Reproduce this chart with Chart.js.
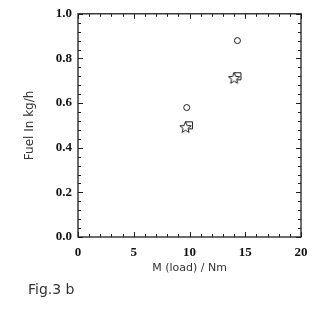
<!DOCTYPE html>
<html>
<head>
<meta charset="utf-8">
<script src="https://cdn.jsdelivr.net/npm/chart.js@4"></script>
<style>
  html, body { margin: 0; padding: 0; background: #fff; }
  #chart { display: block; }
</style>
</head>
<body>
<canvas id="chart" width="319" height="314"></canvas>
<script>
// values
const circleX = [9.75, 14.3];
const circleY = [0.58, 0.88];
const starX = [9.65, 14.0];
const starY = [0.49, 0.71];
const squareX = [9.95, 14.3];
const squareY = [0.50, 0.72];

const xTicks = [0, 5, 10, 15, 20];
const yTicks = [0.0, 0.2, 0.4, 0.6, 0.8, 1.0];
const xMinorStep = 1;
const yMinorStep = 0.04;

const ink = '#1e1e1e';

function toPoints(xs, ys) {
    return xs.map((x, i) => ({ x: x, y: ys[i] }));
}

// five pointed star as a point image
function makeStar(outer, inner) {
    const c = document.createElement('canvas');
    const s = Math.ceil(outer * 2 + 3);
    c.width = s;
    c.height = s;
    const g = c.getContext('2d');
    g.translate(s / 2, s / 2);
    g.beginPath();
    for (let i = 0; i < 10; i++) {
        const r = i % 2 === 0 ? outer : inner;
        const a = -Math.PI / 2 + i * Math.PI / 5;
        const px = r * Math.cos(a), py = r * Math.sin(a);
        if (i === 0) g.moveTo(px, py); else g.lineTo(px, py);
    }
    g.closePath();
    g.fillStyle = '#fff';
    g.fill();
    g.lineWidth = 1;
    g.strokeStyle = ink;
    g.stroke();
    return c;
}

// box frame + inward ticks on all four sides, plus the figure caption
const framePlugin = {
    id: 'frame',
    afterDraw(chart) {
        const ctx = chart.ctx;
        const a = chart.chartArea;
        const xs = chart.scales.x, ys = chart.scales.y;
        ctx.save();
        ctx.strokeStyle = ink;
        ctx.lineWidth = 1.3;
        ctx.strokeRect(a.left, a.top, a.right - a.left, a.bottom - a.top);

        ctx.lineWidth = 1;
        ctx.beginPath();
        for (let v = xs.min; v <= xs.max + 1e-9; v += xMinorStep) {
            const px = Math.round(xs.getPixelForValue(v)) + 0.5;
            const len = xTicks.includes(Math.round(v)) && Math.abs(v - Math.round(v)) < 1e-6 ? 5 : 3;
            ctx.moveTo(px, a.bottom); ctx.lineTo(px, a.bottom - len);
            ctx.moveTo(px, a.top); ctx.lineTo(px, a.top + len);
        }
        for (let i = 0; i * yMinorStep <= ys.max + 1e-9; i++) {
            const v = i * yMinorStep;
            const py = Math.round(ys.getPixelForValue(v)) + 0.5;
            const len = i % 5 === 0 ? 5 : 3;
            ctx.moveTo(a.left, py); ctx.lineTo(a.left + len, py);
            ctx.moveTo(a.right, py); ctx.lineTo(a.right - len, py);
        }
        ctx.stroke();

        ctx.fillStyle = '#333';
        ctx.font = "14px 'DejaVu Sans', sans-serif";
        ctx.textBaseline = 'middle';
        ctx.textAlign = 'left';
        ctx.fillText('Fig.3 b', 28, 290);
        ctx.restore();
    }
};

const tickFont = { family: "'Liberation Serif', serif", size: 13, weight: 'bold' };

new Chart(document.getElementById('chart'), {
    type: 'scatter',
    data: {
        datasets: [
            {
                label: 'circle',
                data: toPoints(circleX, circleY),
                pointStyle: 'circle',
                pointRadius: 3,
                backgroundColor: '#fff',
                borderColor: ink,
                borderWidth: 1,
                order: 0
            },
            {
                label: 'star',
                data: toPoints(starX, starY),
                pointStyle: makeStar(6, 2.6),
                order: 1
            },
            {
                label: 'square',
                data: toPoints(squareX, squareY),
                pointStyle: 'rect',
                pointRadius: 5,
                backgroundColor: '#fff',
                borderColor: ink,
                borderWidth: 1,
                order: 2
            }
        ]
    },
    options: {
        responsive: false,
        animation: false,
        layout: {
            padding: { left: 0, right: 18, top: 12, bottom: 37 }
        },
        plugins: {
            legend: { display: false },
            tooltip: { enabled: false }
        },
        scales: {
            x: {
                type: 'linear',
                min: 0,
                max: 20,
                afterBuildTicks: (scale) => { scale.ticks = xTicks.map(v => ({ value: v })); },
                afterFit: (scale) => { scale.height = 314 - 237 - 37; },
                grid: { display: false, drawTicks: false },
                border: { display: false },
                ticks: {
                    color: '#111',
                    font: tickFont,
                    padding: 8,
                    maxRotation: 0,
                    callback: (v) => String(v)
                },
                title: {
                    display: true,
                    text: 'M (load) / Nm',
                    color: '#333',
                    font: { family: "'DejaVu Sans', sans-serif", size: 11 },
                    padding: { top: 0, bottom: 2 }
                }
            },
            y: {
                type: 'linear',
                min: 0,
                max: 1,
                afterBuildTicks: (scale) => { scale.ticks = yTicks.map(v => ({ value: v })); },
                afterFit: (scale) => { scale.width = 78; },
                grid: { display: false, drawTicks: false },
                border: { display: false },
                ticks: {
                    color: '#111',
                    font: tickFont,
                    padding: 6,
                    callback: (v) => Number(v).toFixed(1)
                },
                title: {
                    display: true,
                    text: 'Fuel In kg/h',
                    color: '#333',
                    font: { family: "'DejaVu Sans', sans-serif", size: 12 },
                    padding: { top: 23, bottom: 0 }
                }
            }
        }
    },
    plugins: [framePlugin]
});
</script>
</body>
</html>
